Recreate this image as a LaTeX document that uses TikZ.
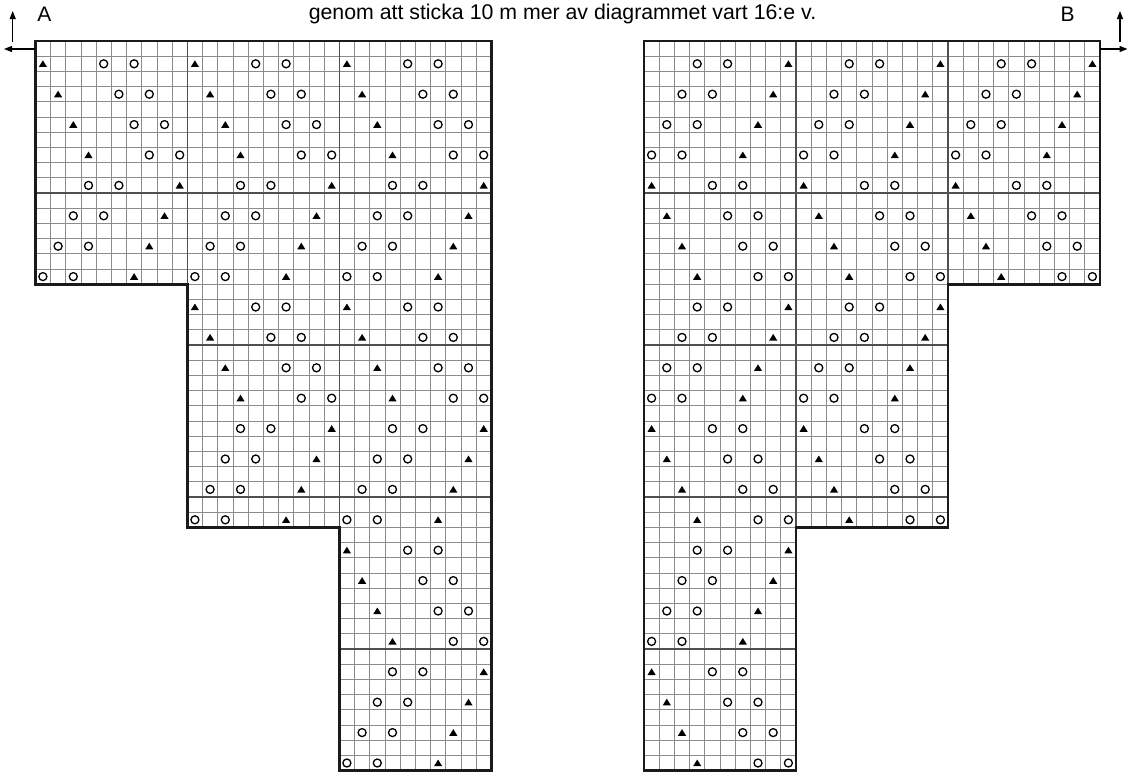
\documentclass[tikz,border=0pt]{standalone}
\usepackage{fontspec}
\setmainfont{Liberation Sans}
\usetikzlibrary{arrows.meta}
\definecolor{rut}{HTML}{8C8C8C}
\definecolor{rapport}{HTML}{505050}
\definecolor{kant}{HTML}{1A1A1A}
\tikzset{
  cellgrid/.style={rut,line width=0.8pt},
  blockline/.style={rapport,line width=1.3pt},
  rim/.style={kant,line width=2.8pt,line join=miter},
  pil/.style={-{Triangle[length=8pt,width=6pt]},line width=1.3pt}
}
\newcommand{\omslag}[2]{\draw[line width=1.3pt] (#1+0.5,#2+0.5) circle (4pt);}
\newcommand{\intag}[2]{\fill (#1+0.23,#2+0.71) -- (#1+0.77,#2+0.71) -- (#1+0.5,#2+0.27) -- cycle;}
\newcommand{\knitchart}{%
\foreach \b/\h/\per in {0/16/0,1/32/1,2/48/2} {
  \foreach \c in {0,...,10} \draw[cellgrid] (10*\b+\c,0) -- (10*\b+\c,\h);
  \foreach \r in {0,...,\h} \draw[cellgrid] (10*\b,\r) -- (10*\b+10,\r);
  \foreach \m in {0,...,\per} {
    \foreach \j in {0,...,3} {\intag{10*\b+\j}{16*\m+2*\j+1} \omslag{10*\b+\j+4}{16*\m+2*\j+1} \omslag{10*\b+\j+6}{16*\m+2*\j+1}}
    \foreach \j in {4,...,7} {\omslag{10*\b+7-\j}{16*\m+2*\j+1} \omslag{10*\b+9-\j}{16*\m+2*\j+1} \intag{10*\b+13-\j}{16*\m+2*\j+1}}
  }
}
\draw[blockline] (10,0) -- (10,16) (20,0) -- (20,32) (0,10) -- (30,10) (10,20) -- (30,20) (10,30) -- (30,30) (20,40) -- (30,40);
\draw[rim] (0,0) -- (30,0) -- (30,48) -- (20,48) -- (20,32) -- (10,32) -- (10,16) -- (0,16) -- cycle;}

\begin{document}
\begin{tikzpicture}[x=1pt,y=-1pt]
\useasboundingbox (0,0) rectangle (1128,774);
% diagram A and its mirror B
\begin{scope}[shift={(35.3pt,-41pt)},x=15.2pt,y=-15.2pt] \knitchart \end{scope}
\begin{scope}[shift={(1100pt,-41pt)},x=-15.2pt,y=-15.2pt] \knitchart \end{scope}
\node[anchor=base,font=\fontsize{21.3}{24}\selectfont] (note) at (562.5,19) {genom att sticka 10 m mer av diagrammet vart 16:e v.};
\node[font=\fontsize{21}{24}\selectfont] (lblA) at (44.5,14.5) {A};
\node[font=\fontsize{21}{24}\selectfont] (lblB) at (1067.5,14.5) {B};
% start arrows
\coordinate (upA0) at (12.7,41.5); \coordinate (upA1) at (12.7,11);
\coordinate (sideA0) at (35.3,49); \coordinate (sideA1) at (4,49);
\coordinate (upB0) at (1120,41.5); \coordinate (upB1) at (1120,11);
\coordinate (sideB0) at (1100,49); \coordinate (sideB1) at (1127.5,49);
\draw[pil] (upA0) -- (upA1); \draw[pil] (sideA0) -- (sideA1);
\draw[pil] (upB0) -- (upB1); \draw[pil] (sideB0) -- (sideB1);
\end{tikzpicture}
\end{document}
